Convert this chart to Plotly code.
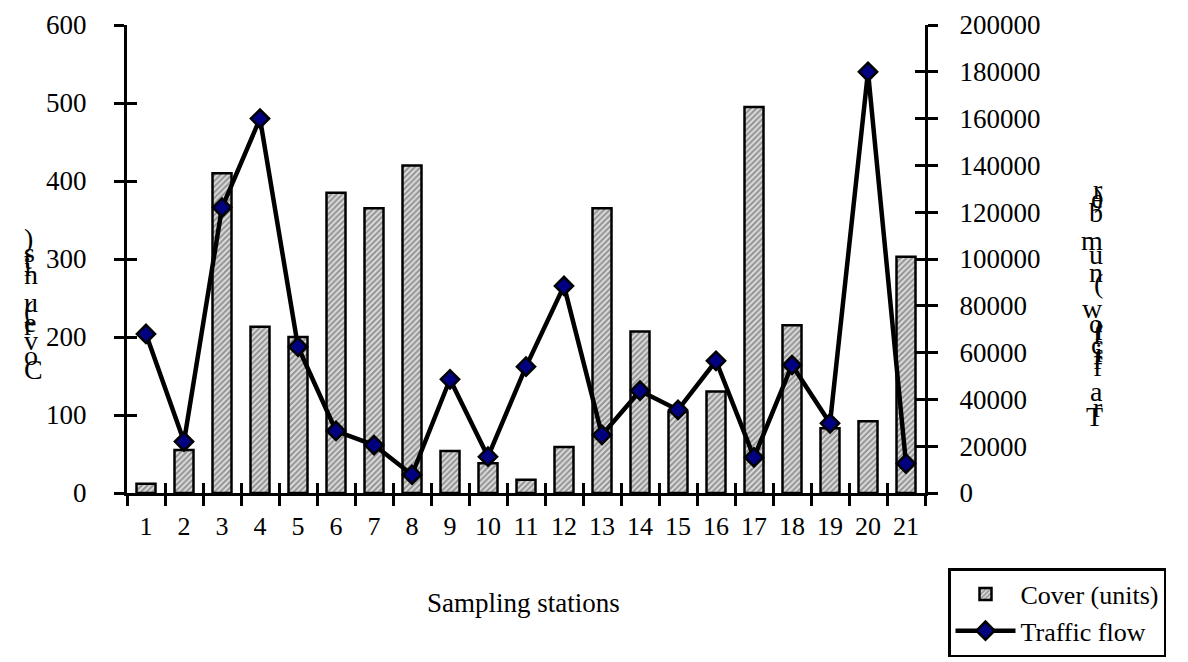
import plotly.graph_objects as go

stations = list(range(1, 22))
cover_units = [12, 55, 410, 213, 200, 385, 365, 420, 54, 38, 17, 59, 365, 207, 104,
               130, 495, 215, 83, 92, 303]
traffic_flow = [68000, 22000, 122000, 160000, 62500, 26500, 20500, 7800, 48600, 15500,
                54000, 88500, 24800, 43700, 35500, 56500, 15200, 54700, 29800, 180000, 12600]

left_title = "Cover (units)"
right_title = "Traffic flow (number)"
x_title = "Sampling stations"

FONT = "Liberation Serif"
W, H = 1188, 662
L, R, T, B = 127, 263, 25, 169
PW, PH = W - L - R, H - T - B


def px(xp):
    return (xp - L) / PW


def py(yp):
    return (H - B - yp) / PH


fig = go.Figure()
fig.add_trace(go.Bar(
    x=stations, y=cover_units, name="Cover (units)", width=0.5,
    marker=dict(color="#bdbdbd", line=dict(color="black", width=2.5),
                pattern=dict(shape="/", fgcolor="#4a4a4a", bgcolor="#dcdcdc",
                             size=4, solidity=0.5)),
))
fig.add_trace(go.Scatter(
    x=stations, y=traffic_flow, name="Traffic flow", yaxis="y2", mode="lines+markers",
    line=dict(color="black", width=4.5),
    marker=dict(symbol="diamond", size=14, color="#000080",
                line=dict(color="black", width=2.5)),
))

tickfont = dict(family=FONT, size=27, color="black")
xtickfont = dict(family=FONT, size=26, color="black")
axcommon = dict(showline=True, linecolor="black", linewidth=3, showgrid=False,
                zeroline=False, tickcolor="black", tickwidth=3, ticklen=10)

fig.update_layout(
    width=W, height=H, margin=dict(l=L, r=R, t=T, b=B, autoexpand=False),
    paper_bgcolor="white", plot_bgcolor="white",
    font=dict(family=FONT, color="black"),
    bargap=0.5,
    xaxis=dict(range=[0.5, 21.5], tickvals=stations, ticktext=[str(s) for s in stations],
               ticks="", showline=True, linecolor="black", linewidth=3, showgrid=False,
               zeroline=False, tickfont=xtickfont, ticklabelstandoff=8,
               fixedrange=True),
    xaxis2=dict(overlaying="x", anchor="y", side="bottom", range=[0.5, 21.5],
                tickvals=[s - 0.5 for s in stations] + [21.5], showticklabels=False,
                ticks="outside", **axcommon),
    xaxis3=dict(overlaying="x", anchor="y", side="bottom", range=[0.5, 21.5],
                tickvals=[s - 0.5 for s in stations] + [21.5], showticklabels=False,
                ticks="inside", **axcommon),
    yaxis=dict(range=[0, 600], dtick=100, ticks="outside", tickfont=tickfont,
               ticklabelstandoff=22, **axcommon),
    yaxis2=dict(overlaying="y", side="right", anchor="x", range=[0, 200000], dtick=20000,
                ticks="outside", tickfont=tickfont, ticklabelstandoff=16,
                tickformat="d", **axcommon),
    yaxis3=dict(overlaying="y", side="left", anchor="x", range=[0, 600], dtick=100,
                ticks="inside", showticklabels=False, **axcommon),
    yaxis4=dict(overlaying="y", side="right", anchor="x", range=[0, 200000], dtick=20000,
                ticks="inside", showticklabels=False, **axcommon),
    legend=dict(x=px(948), y=py(568), xanchor="left", yanchor="top",
                bgcolor="white", bordercolor="black", borderwidth=2.5,
                font=dict(family=FONT, size=26, color="black"),
                itemwidth=60, tracegroupgap=20),
    showlegend=True,
)

# add invisible traces so overlay axes render
for xa, ya in [("x2", "y"), ("x3", "y3"), ("x", "y4")]:
    fig.add_trace(go.Scatter(x=[None], y=[None], xaxis=xa, yaxis=ya,
                             showlegend=False, hoverinfo="skip"))

OFF = 12
annotations = []
annotations.append(dict(text=x_title, x=px(523), y=py(608 + OFF), xref="paper", yref="paper",
                        showarrow=False, font=dict(family=FONT, size=27, color="black")))

# stacked, reversed characters of the axis titles as in the reference
left_chars = list(reversed(left_title))
left_y = [226, 240, 247, 254, 262, 290, 298, 306, 313, 328, 346, 361, 375]
for ch, yy in zip(left_chars, left_y):
    if ch.strip():
        annotations.append(dict(text=ch, x=px(22), y=py(yy + OFF), xref="paper", yref="paper",
                                showarrow=False, font=dict(family=FONT, size=28, color="black")))

right_chars = list(reversed(right_title))
right_y = [168, 178, 186, 200, 228, 242, 260, 271, 280, 296, 311, 318, 322, 336,
           350, 358, 365, 372, 397, 413, 422]
for ch, yy in zip(right_chars, right_y):
    if ch.strip():
        annotations.append(dict(text=ch, x=px(1105), y=py(yy + OFF), xref="paper", yref="paper",
                                showarrow=False, font=dict(family=FONT, size=28, color="black")))

fig.update_layout(annotations=annotations)
fig.write_html("out.html")
